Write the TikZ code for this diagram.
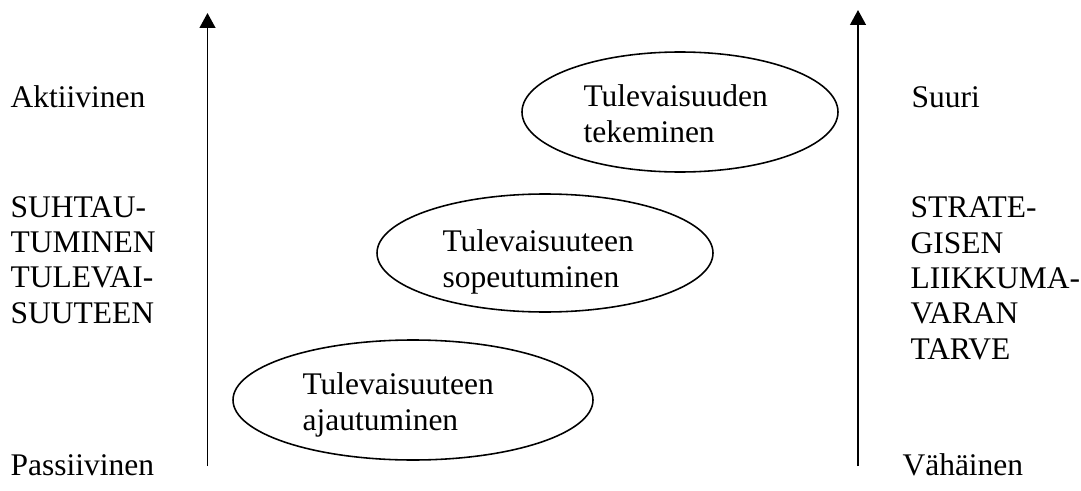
\documentclass[tikz,border=0pt]{standalone}
\usepackage{fontspec}
\setmainfont{Liberation Serif}
\usetikzlibrary{arrows.meta}

\tikzset{
	teksti/.style={anchor=base west, inner sep=0pt, align=left, font=\fontsize{12}{13.45}\selectfont},
	kupla/.style={line width=0.6pt},
	akseli/.style={line width=0.75pt, -{Triangle[width=6pt,length=5.7pt]}}
}

\begin{document}
\begin{tikzpicture}[x=0.381pt, y=-0.381pt]
		\useasboundingbox ( 0, 0 ) rectangle ( 1081, 491 );

		% akselit
		\coordinate (vasen ala) at ( 207.5, 466 );
		\coordinate (vasen yla) at ( 207.5, 13 );
		\coordinate (oikea ala) at ( 858, 466 );
		\coordinate (oikea yla) at ( 858, 10 );
		\draw [akseli] (vasen ala) -- (vasen yla);
		\draw [akseli] (oikea ala) -- (oikea yla);

		% vasen asteikko (monirivisen tekstin kanta = viimeinen rivi)
		\node [teksti] (aktiivinen) at ( 10, 107 ) {Aktiivinen};
		\node [teksti] (suhtautuminen) at ( 10, 323 ) {SUHTAU-\\TUMINEN\\TULEVAI-\\SUUTEEN};
		\node [teksti] (passiivinen) at ( 10, 475 ) {Passiivinen};

		% oikea asteikko
		\node [teksti] (suuri) at ( 911, 107 ) {Suuri};
		\node [teksti] (liikkumavara) at ( 910, 359 ) {STRATE-\\GISEN\\LIIKKUMA-\\VARAN\\TARVE};
		\node [teksti] (vahainen) at ( 902, 475 ) {Vähäinen};

		% tulevaisuuden tekeminen
		\draw [kupla] ( 680, 112 ) ellipse [x radius=158, y radius=60];
		\node [teksti] (tekeminen) at ( 583, 142 ) {Tulevaisuuden\\tekeminen};

		% tulevaisuuteen sopeutuminen
		\draw [kupla] ( 545, 253 ) ellipse [x radius=168, y radius=59];
		\node [teksti] (sopeutuminen) at ( 442, 287 ) {Tulevaisuuteen\\sopeutuminen};

		% tulevaisuuteen ajautuminen
		\draw [kupla] ( 413, 400 ) ellipse [x radius=180, y radius=60];
		\node [teksti] (ajautuminen) at ( 302, 430 ) {Tulevaisuuteen\\ajautuminen};
	\end{tikzpicture}
\end{document}
